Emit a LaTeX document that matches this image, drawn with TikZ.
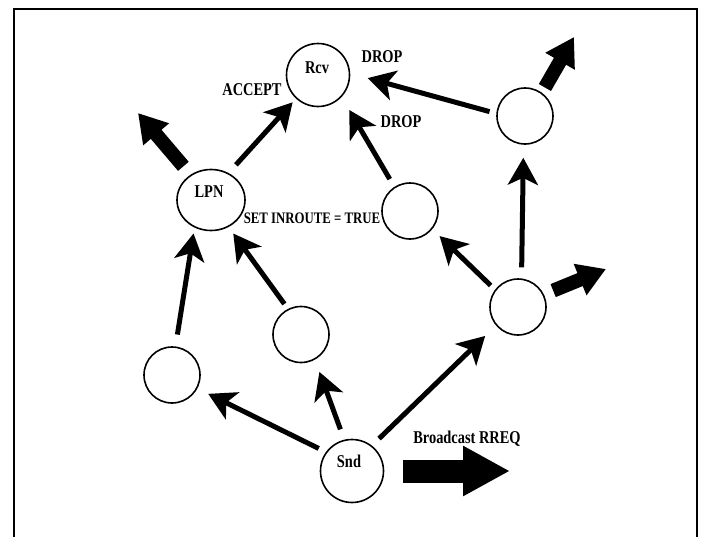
\documentclass[tikz,border=0pt]{standalone}
\usepackage{fontspec}
\setmainfont{Liberation Serif}
\newfontfamily\labfont{Liberation Serif}[FakeStretch=0.8]
\usetikzlibrary{arrows.meta,shapes.geometric}
\begin{document}
\begin{tikzpicture}[x=1pt,y=-1pt,
  nd/.style={circle,draw,line width=1.6pt,minimum size=56pt,inner sep=0pt},
  bignd/.style={nd,minimum size=63pt},
  lab/.style={anchor=base,inner sep=0pt,font=\labfont\bfseries\fontsize{18}{20}\selectfont},
  smalllab/.style={lab,font=\labfont\bfseries\fontsize{16}{18}\selectfont},
  conn/.style={line width=5pt,-{Stealth[length=27pt,width=30pt,inset=7pt]}},
  fat/.style={line width=14pt,-{Triangle[length=28pt,width=32pt]}},
  bigfat/.style={line width=23pt,-{Triangle[length=47pt,width=47pt]}},
]
\useasboundingbox (0,0) rectangle (701,536);
\draw[line width=2pt] (14,545) -- (14,9) -- (697,9) -- (697,545);

% nodes
\node[bignd] (Rcv) at (318,75) {};
\node[ellipse,draw,line width=1.6pt,minimum width=68pt,minimum height=61pt,inner sep=0pt] (LPN) at (211,200) {};
\node[bignd] (Snd) at (352,471) {};
\node[nd] (N2) at (172,375) {};
\node[nd] (N3) at (301,334.5) {};
\node[nd] (N5) at (410,211) {};
\node[nd] (N6) at (518,307) {};
\node[nd] (N7) at (525,116) {};

% labels
\node[lab] (tRcv) at (317,73) {Rcv};
\node[lab] (tLPN) at (209,197) {LPN};
\node[lab] (tSnd) at (349,467) {Snd};
\node[lab] (tDrop1) at (382,62) {DROP};
\node[lab] (tDrop2) at (401,127) {DROP};
\node[lab] (tAcc) at (252,95) {ACCEPT};
\node[smalllab] (tSet) at (312,223) {SET INROUTE = TRUE};
\node[lab] (tBc) at (467,443) {Broadcast RREQ};

% free ends
\coordinate (fLPN) at (138,113);
\coordinate (fN6) at (606,269);
\coordinate (fN7) at (574,37);
\coordinate (fSnd) at (510,471);

% thin connectors
\draw[conn,shorten <=8pt,shorten >=12pt] (Snd.144) -- (N2.-28);
\draw[conn,shorten <=11pt,shorten >=13pt] (Snd.104) -- (N3.-61);
\draw[conn,shorten <=10pt,shorten >=15pt] (Snd.52) -- (N6.220);
\draw[conn,shorten <=12pt,shorten >=6pt] (N2.83) -- (LPN.239);
\draw[conn,shorten <=6pt,shorten >=8pt] (N3.117) -- (LPN.-57);
\draw[conn,shorten <=11pt,shorten >=5pt] (LPN.57) -- (Rcv.227);
\draw[conn,shorten <=9pt,shorten >=15pt] (N5.123) -- (Rcv.-43);
\draw[conn,shorten <=6pt,shorten >=10pt] (N6.143) -- (N5.-39);
\draw[conn,shorten <=11pt,shorten >=13pt] (N6.83) -- (N7.267);
\draw[conn,shorten <=7pt,shorten >=18pt] (N7.175) -- (Rcv.3);

% fat arrows
\draw[fat,shorten <=11pt] (LPN.129) -- (fLPN);
\draw[fat,shorten <=10pt] (N6.26) -- (fN6);
\draw[fat,shorten <=6pt] (N7.54) -- (fN7);
\draw[bigfat,shorten <=19pt] (Snd.east) -- (fSnd);
\end{tikzpicture}
\end{document}
